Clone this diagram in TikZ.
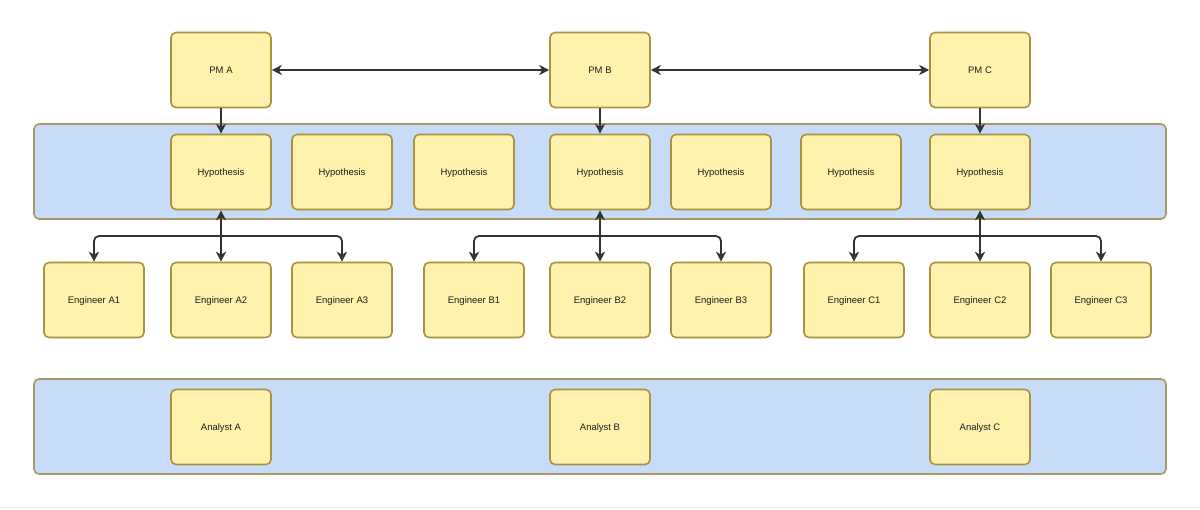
\documentclass[tikz,border=0pt]{standalone}
\usepackage{fontspec}
\setmainfont{Liberation Sans}
\usetikzlibrary{arrows.meta,positioning}
\definecolor{boxfill}{HTML}{FFF2AC}
\definecolor{boxline}{HTML}{A89440}
\definecolor{bandfill}{HTML}{C8DBF8}
\definecolor{bandline}{HTML}{A89A66}
\definecolor{arrowc}{HTML}{333333}
\tikzset{
  tip/.tip={Stealth[length=10pt,width=10pt,inset=3pt]},
  card/.style={draw=boxline, fill=boxfill, line width=1.6pt, rounded corners=5pt,
    minimum width=100pt, minimum height=75pt, inner sep=0pt,
    text height=7pt, text depth=0pt,
    font=\fontsize{9.5}{11}\selectfont, text=black!88},
  band/.style={draw=bandline, fill=bandfill, line width=1.6pt, rounded corners=5pt},
  link/.style={draw=arrowc, line width=1.8pt, -tip},
  blink/.style={draw=arrowc, line width=1.8pt, tip-tip},
  rlink/.style={draw=arrowc, line width=1.8pt, tip-},
}
\begin{document}
\begin{tikzpicture}[x=1pt,y=-1pt]
\useasboundingbox (0,0) rectangle (1200,509);
\fill[white] (0,0) rectangle (1200,509);
\draw[black!8, line width=1pt] (0,507.5) -- (1200,507.5);
% bands
\node[band, minimum width=1132pt, minimum height=95pt] (band1) at (600,171.5) {};
\node[band, minimum width=1132pt, minimum height=95pt] (band2) at (600,426.5) {};
% PMs
\node[card] (pmA) at (221,70) {PM A};
\node[card] (pmB) at (600,70) {PM B};
\node[card] (pmC) at (980,70) {PM C};
% hypotheses
\node[card] (hA) at (221,172) {Hypothesis};
\node[card] (h2) at (342,172) {Hypothesis};
\node[card] (h3) at (464,172) {Hypothesis};
\node[card] (hB) at (600,172) {Hypothesis};
\node[card] (h5) at (721,172) {Hypothesis};
\node[card] (h6) at (851,172) {Hypothesis};
\node[card] (hC) at (980,172) {Hypothesis};
% engineers
\node[card] (eA1) at (94,300) {Engineer A1};
\node[card] (eA2) at (221,300) {Engineer A2};
\node[card] (eA3) at (342,300) {Engineer A3};
\node[card] (eB1) at (474,300) {Engineer B1};
\node[card] (eB2) at (600,300) {Engineer B2};
\node[card] (eB3) at (721,300) {Engineer B3};
\node[card] (eC1) at (854,300) {Engineer C1};
\node[card] (eC2) at (980,300) {Engineer C2};
\node[card] (eC3) at (1101,300) {Engineer C3};
% analysts
\node[card] (aA) at (221,427) {Analyst A};
\node[card] (aB) at (600,427) {Analyst B};
\node[card] (aC) at (980,427) {Analyst C};
% PM links
\draw[blink] (pmA.east) -- (pmB.west);
\draw[blink] (pmB.east) -- (pmC.west);
\draw[link] (pmA.south) -- (hA.north);
\draw[link] (pmB.south) -- (hB.north);
\draw[link] (pmC.south) -- (hC.north);
% junctions
\coordinate (jA) at (221,236);
\coordinate (jB) at (600,236);
\coordinate (jC) at (980,236);
\foreach \j/\h/\l/\m/\r in {jA/hA/eA1/eA2/eA3, jB/hB/eB1/eB2/eB3, jC/hC/eC1/eC2/eC3}{
  \draw[rlink] (\h.south) -- (\j);
  \draw[link, rounded corners=5pt] (\j) -| (\l.north);
  \draw[link] (\j) -- (\m.north);
  \draw[link, rounded corners=5pt] (\j) -| (\r.north);
}
\end{tikzpicture}
\end{document}
